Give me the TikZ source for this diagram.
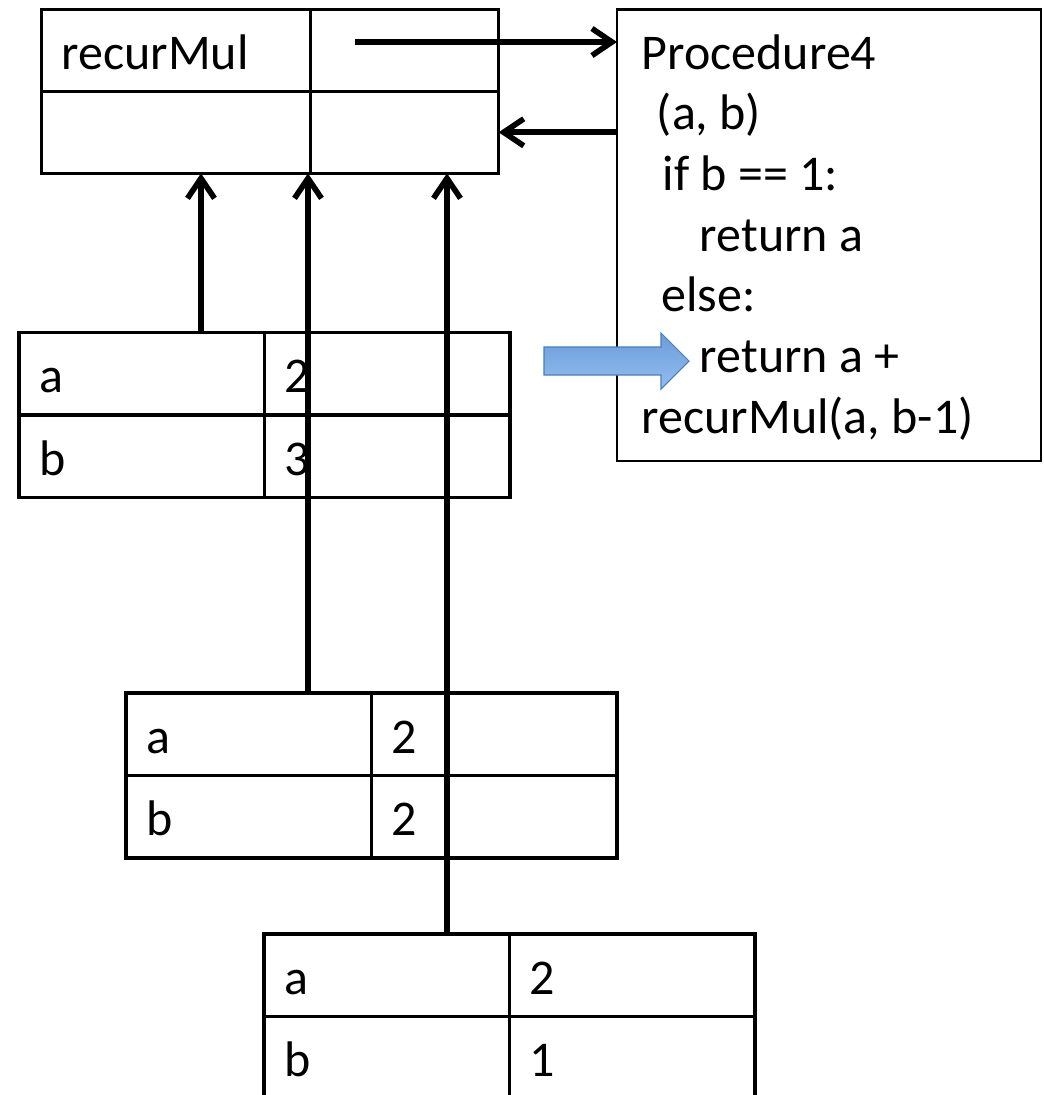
\documentclass[tikz,border=0pt]{standalone}
\usepackage{fontspec}
\setmainfont{Carlito}
\usetikzlibrary{positioning,arrows.meta}

\definecolor{ptrtop}{HTML}{6B9CDA}
\definecolor{ptrbot}{HTML}{92BDEF}
\definecolor{ptrline}{HTML}{4A7EBB}

\begin{document}
\begin{tikzpicture}[
		font=\fontsize{28.45pt}{34.5pt}\selectfont,
		cell/.style={draw, line width=1.8pt, outer sep=0pt, minimum width=4.91cm, minimum height=1.65cm, text width=4.11cm, inner xsep=0.4cm, inner ysep=0pt, text height=0.76cm, text depth=0pt, align=left},
		frame/.style={cell, minimum width=0pt, minimum height=1.64cm},
		procbox/.style={draw, line width=1.4pt, outer sep=0pt, minimum width=8.48cm, minimum height=9.03cm, anchor=north west},
		link/.style={line width=3.2pt, -{Straight Barb[length=4mm,width=5.4mm]}},
		pointer/.style={draw=ptrline, line width=0.6pt, top color=ptrtop, bottom color=ptrbot}]
		\useasboundingbox (0,0) rectangle (20.88,-21.9);
		\node[frame, text width=4.58cm, anchor=north west](fr11) at (0.834,-0.186) {recurMul};
		\node[frame, text width=2.96cm, right=0pt of fr11](fr12) {};
		\node[frame, text width=4.58cm, below=0pt of fr11](fr21) {};
		\node[frame, text width=2.96cm, right=0pt of fr21](fr22) {};
		\node[procbox](proc) at (12.34,-0.19) {};
		\node[anchor=north west, inner sep=0pt, align=left](code) at ([xshift=0.49cm,yshift=-0.34cm]proc.north west)
		{\strut Procedure4\\
		\strut\hspace{0.3em}(a, b)\\
		\strut\hspace{0.42em}if b == 1:\\
		\strut\hspace{1.16em}return a\\
		\strut\hspace{0.39em}else:\\
		\strut\hspace{1.16em}return a +\\
		\strut recurMul(a, b-1)};
		\node[cell, anchor=north west](t1a) at (0.38,-6.65) {a};
		\node[cell, right=0pt of t1a](t1v) {2};
		\node[cell, below=0pt of t1a](t1b) {b};
		\node[cell, right=0pt of t1b](t1w) {3};
		\node[cell, anchor=north west](t2a) at (2.52,-13.86) {a};
		\node[cell, right=0pt of t2a](t2v) {2};
		\node[cell, below=0pt of t2a](t2b) {b};
		\node[cell, right=0pt of t2b](t2w) {2};
		\node[cell, anchor=north west](t3a) at (5.28,-18.68) {a};
		\node[cell, right=0pt of t3a](t3v) {2};
		\node[cell, below=0pt of t3a](t3b) {b};
		\node[cell, right=0pt of t3b](t3w) {1};
		\coordinate (ptr) at (7.1,-0.84);
		\coordinate (x1) at (4.02,0);
		\coordinate (x2) at (6.16,0);
		\coordinate (x3) at (8.94,0);
		\draw[link] (ptr) -- (ptr -| proc.west);
		\draw[link] (fr22.east -| proc.west) -- (fr22.east);
		\draw[link] (x1 |- t1a.north) -- (x1 |- fr21.south);
		\draw[link] (x2 |- t2a.north) -- (x2 |- fr21.south);
		\draw[link] (x3 |- t3a.north) -- (x3 |- fr22.south);
		\path[pointer] (10.88,-6.94) -- (13.22,-6.94) -- (13.22,-6.66) -- (13.78,-7.22)
		-- (13.22,-7.78) -- (13.22,-7.5) -- (10.88,-7.5) -- cycle;
	\end{tikzpicture}
\end{document}
